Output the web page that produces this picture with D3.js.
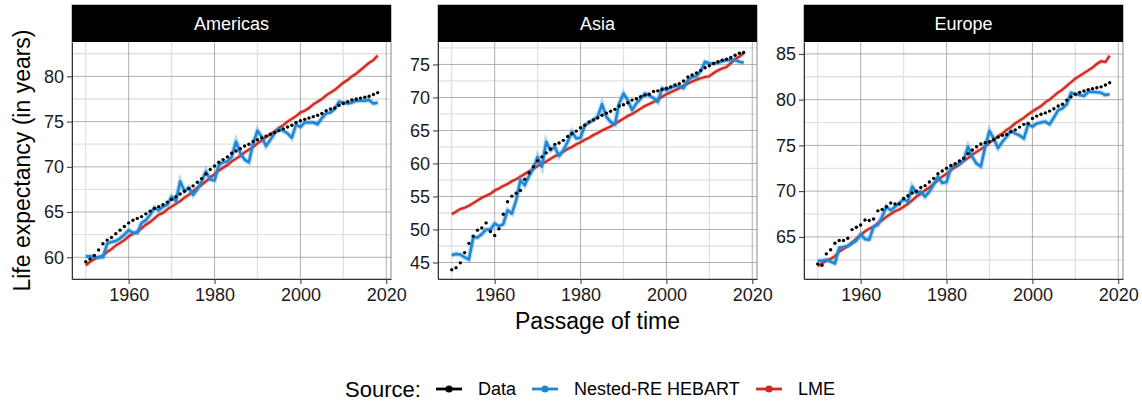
<!DOCTYPE html>
<html>
<head>
<meta charset="utf-8">
<script src="https://cdn.jsdelivr.net/npm/d3@7"></script>
<style>
  body { margin: 0; background: #fff; }
  svg { display: block; font-family: 'Liberation Sans', Arial, sans-serif; }
  .tick text { fill: #1a1a1a; }
</style>
</head>
<body>
<svg width="1142" height="403"></svg>
<script>
const years = [1950, 1951, 1952, 1953, 1954, 1955, 1956, 1957, 1958, 1959,
  1960, 1961, 1962, 1963, 1964, 1965, 1966, 1967, 1968, 1969,
  1970, 1971, 1972, 1973, 1974, 1975, 1976, 1977, 1978, 1979,
  1980, 1981, 1982, 1983, 1984, 1985, 1986, 1987, 1988, 1989,
  1990, 1991, 1992, 1993, 1994, 1995, 1996, 1997, 1998, 1999,
  2000, 2001, 2002, 2003, 2004, 2005, 2006, 2007, 2008, 2009,
  2010, 2011, 2012, 2013, 2014, 2015, 2016, 2017, 2018]

const regions = ['Americas', 'Asia', 'Europe']
const sources = ['Data', 'Nested-RE HEBART', 'LME']
const xTicks = [1960, 1980, 2000, 2020]
const yTicksAmericas = [60, 65, 70, 75, 80]
const yTicksAsia = [45, 50, 55, 60, 65, 70, 75]
const yTicksEurope = [65, 70, 75, 80, 85]

// Americas
const americasData = [59.5, 59.8, 60.2, 60.8, 61.5, 61.9, 62.2, 62.6, 63.0, 63.4,
  63.8, 64.1, 64.3, 64.5, 64.8, 65.1, 65.4, 65.6, 65.8, 66.1,
  66.4, 66.7, 67.0, 67.3, 67.6, 67.9, 68.3, 68.7, 69.2, 69.7,
  70.1, 70.5, 70.8, 71.1, 71.5, 71.75, 72.0, 72.3, 72.5, 72.8,
  73.0, 73.2, 73.4, 73.6, 73.8, 74.0, 74.2, 74.4, 74.6, 74.9,
  75.1, 75.25, 75.4, 75.55, 75.7, 75.9, 76.2, 76.4, 76.5, 76.8,
  77.0, 77.2, 77.4, 77.5, 77.6, 77.7, 77.8, 78.0, 78.2]
const americasHebart = [60.1, 60.1, 60.0, 60.0, 60.0, 61.5, 61.7, 61.8, 62.1, 62.5,
  63.0, 62.7, 62.7, 63.8, 64.1, 64.7, 65.5, 65.2, 65.6, 65.8,
  66.7, 66.2, 68.4, 67.3, 67.7, 66.9, 67.5, 68.4, 69.5, 68.6,
  68.5, 70.2, 70.5, 70.6, 71.1, 72.8, 71.5, 70.8, 70.5, 72.6,
  74.0, 73.3, 72.3, 73.0, 73.7, 74.2, 74.0, 73.7, 73.2, 74.7,
  74.4, 74.9, 74.9, 74.9, 74.7, 75.4, 75.9, 76.0, 76.4, 77.2,
  77.1, 77.0, 77.1, 77.3, 77.3, 77.3, 77.4, 77.0, 77.1]
const americasLme = [59.1, 59.5, 59.8, 60.0, 60.2, 60.6, 60.9, 61.3, 61.6, 61.9,
  62.3, 62.6, 62.8, 63.2, 63.6, 63.9, 64.3, 64.7, 64.9, 65.3,
  65.6, 65.9, 66.2, 66.6, 66.9, 67.3, 67.7, 68.0, 68.4, 68.8,
  69.2, 69.6, 69.9, 70.2, 70.6, 70.9, 71.2, 71.6, 71.9, 72.2,
  72.6, 72.9, 73.3, 73.6, 73.9, 74.3, 74.6, 75.0, 75.3, 75.6,
  76.0, 76.2, 76.5, 76.9, 77.2, 77.5, 77.9, 78.2, 78.5, 78.9,
  79.3, 79.6, 80.0, 80.3, 80.7, 81.1, 81.5, 81.8, 82.3]

// Asia
const asiaData = [43.9, 44.2, 44.95, 46.5, 47.9, 49.0, 49.9, 50.25, 51.0, 49.7,
  49.1, 50.1, 52.3, 54.2, 55.05, 55.5, 55.9, 57.6, 58.6, 59.5,
  60.4, 61.0, 61.6, 62.2, 62.9, 63.1, 63.5, 64.1, 64.5, 64.9,
  65.4, 65.8, 66.3, 66.6, 66.9, 67.3, 67.6, 67.9, 68.2, 68.7,
  68.9, 69.2, 69.6, 69.8, 70.1, 70.35, 70.5, 70.9, 71.0, 71.2,
  71.4, 71.6, 71.9, 72.1, 72.5, 73.1, 73.4, 73.7, 74.1, 74.5,
  74.8, 75.15, 75.4, 75.65, 75.8, 76.05, 76.4, 76.7, 76.8]
const asiaHebart = [46.1, 46.3, 46.2, 45.8, 45.45, 48.8, 48.8, 49.3, 50.0, 50.0,
  50.9, 50.5, 50.8, 52.9, 52.4, 54.4, 57.5, 56.7, 58.1, 59.2,
  61.0, 59.5, 63.3, 62.0, 62.5, 61.1, 62.0, 63.3, 64.8, 63.8,
  63.9, 65.8, 66.2, 66.6, 67.1, 69.0, 67.1, 66.3, 65.9, 69.1,
  70.6, 69.6, 68.1, 69.1, 69.8, 70.6, 70.3, 69.9, 69.3, 71.4,
  71.1, 71.5, 71.7, 71.7, 71.4, 72.6, 73.1, 73.2, 74.0, 75.4,
  75.15, 75.15, 75.25, 75.5, 75.65, 75.65, 75.65, 75.4, 75.25]
const asiaLme = [52.3, 52.7, 53.1, 53.3, 53.6, 54.0, 54.4, 54.8, 55.1, 55.4,
  55.9, 56.2, 56.6, 56.9, 57.3, 57.6, 58.0, 58.4, 58.8, 59.2,
  59.6, 60.0, 60.3, 60.7, 61.1, 61.4, 61.8, 62.2, 62.5, 62.9,
  63.2, 63.6, 63.9, 64.3, 64.6, 65.0, 65.3, 65.6, 66.0, 66.4,
  66.8, 67.2, 67.5, 67.9, 68.3, 68.7, 69.0, 69.3, 69.7, 70.1,
  70.5, 70.8, 71.1, 71.4, 71.8, 72.1, 72.4, 72.7, 72.9, 73.1,
  73.2, 73.7, 74.1, 74.4, 74.6, 75.2, 75.8, 76.2, 76.7]

// Europe
const europeData = [62.05, 61.9, 63.15, 63.6, 64.3, 64.6, 64.6, 64.85, 65.8, 66.05,
  66.3, 66.85, 66.8, 66.95, 67.85, 68.0, 68.3, 68.7, 68.6, 68.6,
  69.2, 69.5, 69.8, 70.0, 70.4, 70.6, 71.0, 71.4, 71.9, 72.2,
  72.5, 72.8, 73.0, 73.3, 73.6, 74.1, 74.5, 74.85, 75.15, 75.3,
  75.4, 75.65, 75.9, 76.1, 76.2, 76.5, 76.7, 77.0, 77.3, 77.4,
  77.95, 78.2, 78.4, 78.55, 78.75, 79.0, 79.3, 79.5, 79.95, 80.3,
  80.6, 80.8, 80.95, 81.1, 81.2, 81.3, 81.4, 81.6, 81.85]
const europeHebart = [62.4, 62.4, 62.5, 62.3, 62.1, 63.8, 63.9, 64.0, 64.3, 64.6,
  65.3, 64.75, 64.7, 66.1, 66.3, 67.2, 68.3, 67.9, 68.3, 68.7,
  69.1, 68.85, 70.5, 69.8, 69.95, 69.4, 69.95, 70.7, 71.6, 70.9,
  71.0, 72.5, 72.85, 73.0, 73.4, 74.85, 73.75, 73.0, 72.7, 74.85,
  76.6, 75.75, 74.7, 75.4, 75.95, 76.6, 76.3, 76.1, 75.75, 77.3,
  77.05, 77.4, 77.5, 77.6, 77.3, 78.05, 78.85, 79.05, 79.5, 80.75,
  80.6, 80.5, 80.4, 80.85, 80.85, 80.8, 80.75, 80.5, 80.6]
const europeLme = [61.8, 62.1, 62.4, 62.6, 62.9, 63.4, 63.7, 64.0, 64.4, 64.8,
  65.2, 65.6, 65.9, 66.1, 66.5, 66.8, 67.2, 67.5, 67.8, 68.0,
  68.3, 68.6, 69.0, 69.4, 69.7, 70.1, 70.4, 70.8, 71.2, 71.6,
  71.9, 72.3, 72.6, 72.9, 73.3, 73.6, 74.0, 74.3, 74.6, 74.9,
  75.3, 75.6, 76.0, 76.3, 76.7, 77.0, 77.4, 77.7, 78.0, 78.4,
  78.7, 79.0, 79.3, 79.7, 80.0, 80.4, 80.8, 81.1, 81.5, 81.9,
  82.3, 82.6, 82.9, 83.2, 83.5, 83.9, 84.2, 84.1, 84.8]

const colors = { 'Data': '#000000', 'Nested-RE HEBART': '#1f88d6', 'LME': '#d3291d' }

const panels = [
  { name: regions[0], left: 72, yDomain: [57.6, 83.8], yTicks: yTicksAmericas,
    series: [americasData, americasHebart, americasLme] },
  { name: regions[1], left: 438, yDomain: [42.5, 78.4], yTicks: yTicksAsia,
    series: [asiaData, asiaHebart, asiaLme] },
  { name: regions[2], left: 804, yDomain: [60.4, 86.3], yTicks: yTicksEurope,
    series: [europeData, europeHebart, europeLme] }
]

const dim = { panelWidth: 319, stripTop: 5, top: 42, bottom: 279 }

const svg = d3.select('svg')

panels.forEach((p) => drawPanel(p))
drawTitles()
drawLegend()

function drawPanel (p) {
  const x = d3.scaleLinear()
    .domain([1946.8, 2021.1])
    .range([p.left, p.left + dim.panelWidth])
  const y = d3.scaleLinear()
    .domain(p.yDomain)
    .range([dim.bottom, dim.top])

  const g = svg.append('g').attr('class', 'panel')

  // minor grid
  const yMinor = p.yTicks.map((t) => t - 2.5).concat([p.yTicks[p.yTicks.length - 1] + 2.5])
    .filter((v) => v > p.yDomain[0] && v < p.yDomain[1])
  const xMinor = [1950, 1970, 1990, 2010]
  g.selectAll('.ygridMinor').data(yMinor).enter().append('line')
    .attr('x1', p.left).attr('x2', p.left + dim.panelWidth)
    .attr('y1', (d) => y(d)).attr('y2', (d) => y(d))
    .attr('stroke', '#e2e2e2').attr('stroke-width', 1.3)
  g.selectAll('.xgridMinor').data(xMinor).enter().append('line')
    .attr('x1', (d) => x(d)).attr('x2', (d) => x(d))
    .attr('y1', dim.top).attr('y2', dim.bottom)
    .attr('stroke', '#e2e2e2').attr('stroke-width', 1.3)

  // major grid
  g.selectAll('.ygrid').data(p.yTicks).enter().append('line')
    .attr('x1', p.left).attr('x2', p.left + dim.panelWidth)
    .attr('y1', (d) => y(d)).attr('y2', (d) => y(d))
    .attr('stroke', '#9c9c9c').attr('stroke-width', 0.8)
  g.selectAll('.xgrid').data(xTicks.filter((d) => d < 2021)).enter().append('line')
    .attr('x1', (d) => x(d)).attr('x2', (d) => x(d))
    .attr('y1', dim.top).attr('y2', dim.bottom)
    .attr('stroke', '#9c9c9c').attr('stroke-width', 0.8)

  // series
  const line = d3.line()
    .x((d, i) => x(years[i]))
    .y((d) => y(d))

  const hebart = p.series[1]
  const lme = p.series[2]
  g.append('path').datum(lme).attr('d', line)
    .attr('fill', 'none').attr('stroke', colors['LME'])
    .attr('stroke-width', 4).attr('stroke-opacity', 0.3)
  g.append('path').datum(lme).attr('d', line)
    .attr('fill', 'none').attr('stroke', colors['LME'])
    .attr('stroke-width', 2.2)
  g.append('path').datum(hebart).attr('d', line)
    .attr('fill', 'none').attr('stroke', colors['Nested-RE HEBART'])
    .attr('stroke-width', 5).attr('stroke-opacity', 0.3)
  g.append('path').datum(hebart).attr('d', line)
    .attr('fill', 'none').attr('stroke', colors['Nested-RE HEBART'])
    .attr('stroke-width', 2.6).attr('stroke-linejoin', 'round')

  g.selectAll('.dot').data(p.series[0]).enter().append('circle')
    .attr('cx', (d, i) => x(years[i]))
    .attr('cy', (d) => y(d))
    .attr('r', 1.7)
    .attr('fill', colors['Data'])

  // border + strip
  g.append('rect')
    .attr('x', p.left).attr('y', dim.stripTop)
    .attr('width', dim.panelWidth).attr('height', dim.bottom - dim.stripTop)
    .attr('fill', 'none').attr('stroke', '#8a8a8a').attr('stroke-width', 1)
  g.append('rect')
    .attr('x', p.left).attr('y', dim.stripTop)
    .attr('width', dim.panelWidth).attr('height', dim.top - dim.stripTop)
    .attr('fill', '#000')
  g.append('text')
    .attr('x', p.left + dim.panelWidth / 2).attr('y', (dim.stripTop + dim.top) / 2)
    .attr('dy', '0.35em')
    .attr('text-anchor', 'middle')
    .attr('fill', '#fff')
    .style('font-size', '18px')
    .text(p.name)

  // axes
  svg.append('g')
    .attr('transform', 'translate(0,' + dim.bottom + ')')
    .call(d3.axisBottom(x).tickValues(xTicks).tickFormat(d3.format('d'))
      .tickSize(5).tickPadding(4).tickSizeOuter(0))
    .call((a) => a.select('.domain').attr('stroke', '#333'))
    .call((a) => a.selectAll('.tick line').attr('stroke', '#333'))
    .call((a) => a.selectAll('.tick text').style('font-size', '18px')
      .style('font-family', "'Liberation Sans', Arial, sans-serif"))

  svg.append('g')
    .attr('transform', 'translate(' + p.left + ',0)')
    .call(d3.axisLeft(y).tickValues(p.yTicks)
      .tickSize(5).tickPadding(3).tickSizeOuter(0))
    .call((a) => a.select('.domain').attr('stroke', '#333'))
    .call((a) => a.selectAll('.tick line').attr('stroke', '#333'))
    .call((a) => a.selectAll('.tick text').style('font-size', '18px')
      .style('font-family', "'Liberation Sans', Arial, sans-serif"))
}

function drawTitles () {
  svg.append('text')
    .attr('transform', 'translate(29.5,' + ((dim.top + dim.bottom) / 2) + ') rotate(-90)')
    .attr('text-anchor', 'middle')
    .style('font-size', '23px')
    .attr('fill', '#000')
    .text('Life expectancy (in years)')

  svg.append('text')
    .attr('x', panels[1].left + dim.panelWidth / 2)
    .attr('y', 329)
    .attr('text-anchor', 'middle')
    .style('font-size', '23px')
    .attr('fill', '#000')
    .text('Passage of time')
}

function drawLegend () {
  const lg = svg.append('g').attr('class', 'legend')
  const cy = 389
  lg.append('text')
    .attr('x', 345).attr('y', 397)
    .style('font-size', '22px')
    .text('Source:')

  const keyX = [436, 532, 756]
  sources.forEach((s, i) => {
    const k = lg.append('g').attr('transform', 'translate(' + keyX[i] + ',0)')
    k.append('line')
      .attr('x1', 0).attr('x2', 26).attr('y1', cy).attr('y2', cy)
      .attr('stroke', colors[s]).attr('stroke-width', 2.8)
    k.append('circle')
      .attr('cx', 13).attr('cy', cy).attr('r', 3.6)
      .attr('fill', colors[s])
    k.append('text')
      .attr('x', 42).attr('y', cy).attr('dy', '0.35em')
      .style('font-size', '18px')
      .text(s)
  })
}
</script>
</body>
</html>
